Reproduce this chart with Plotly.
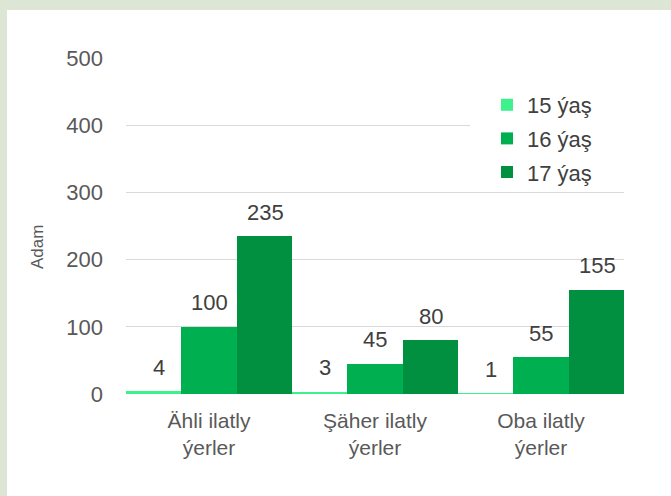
import plotly.graph_objects as go

categories = ["Ähli ilatly<br>ýerler", "Şäher ilatly<br>ýerler", "Oba ilatly<br>ýerler"]
series_names = ["15 ýaş", "16 ýaş", "17 ýaş"]
values_15 = [4, 3, 1]
values_16 = [100, 45, 55]
values_17 = [235, 80, 155]
colors = ["#3DF28C", "#00B050", "#00903F"]
y_ticks = [0, 100, 200, 300, 400, 500]
y_title = "Adam"

W, H = 671, 496
L, R, T, B = 126, 47, 58, 102
pw, ph = W - L - R, H - T - B
FONT = "Liberation Sans, Arial"

def px_x(x):
    return (x - L) / pw

def px_y(y):
    return (H - B - y) / ph

series = [values_15, values_16, values_17]
fig = go.Figure()
for i, (name, vals) in enumerate(zip(series_names, series)):
    fig.add_trace(go.Bar(
        x=categories, y=vals, name=name,
        marker=dict(color=colors[i], line=dict(width=0)),
        legendgroup=name,
    ))

bar_w = pw / 3 / 3
label_dx = [5, 0, 1]
for i, vals in enumerate(series):
    for c, v in zip(categories, vals):
        fig.add_annotation(
            x=c, y=v, xref="x", yref="y", text=str(v), showarrow=False,
            xshift=(i - 1) * bar_w + label_dx[i], yshift=24,
            xanchor="center", yanchor="middle",
            font=dict(family=FONT, size=22, color="#404040"),
        )

fig.add_annotation(
    x=px_x(37), y=px_y(247), xref="paper", yref="paper", text=y_title,
    showarrow=False, textangle=-90, xanchor="center", yanchor="middle",
    font=dict(family=FONT, size=17, color="#595959"),
)

# frame
fig.add_shape(type="rect", xref="paper", yref="paper",
              x0=px_x(7), x1=px_x(W + 5), y0=px_y(H + 5), y1=px_y(10),
              fillcolor="white", line=dict(width=0), layer="below")
# legend background area
fig.add_shape(type="rect", xref="paper", yref="paper",
              x0=px_x(470), x1=px_x(L + pw + 1), y0=px_y(186), y1=px_y(84),
              fillcolor="white", line=dict(width=0), layer="above")

fig.update_layout(
    width=W, height=H,
    margin=dict(l=L, r=R, t=T, b=B, pad=0),
    paper_bgcolor="#DDE5D5", plot_bgcolor="white",
    barmode="group", bargap=0, bargroupgap=0,
    font=dict(family=FONT, size=22, color="#595959"),
    showlegend=True,
    legend=dict(
        x=px_x(487), y=px_y(84), xanchor="left", yanchor="top",
        bgcolor="rgba(0,0,0,0)", borderwidth=0, tracegroupgap=2,
        font=dict(family=FONT, size=22, color="#404040"),
        itemwidth=30,
    ),
    xaxis=dict(showline=False, ticks="", tickfont=dict(size=21, color="#595959"),
               showgrid=False, zeroline=False, ticklabelstandoff=12),
    yaxis=dict(range=[0, 500], tickvals=y_ticks, showgrid=True, gridcolor="#D9D9D9",
               gridwidth=1, zeroline=False, showline=False, ticks="",
               ticklabelstandoff=22,
               tickfont=dict(size=22, color="#595959")),
)

fig.write_html("out.html", config={"displayModeBar": False},
               post_script="document.body.style.margin='0';document.body.style.overflow='hidden';")
